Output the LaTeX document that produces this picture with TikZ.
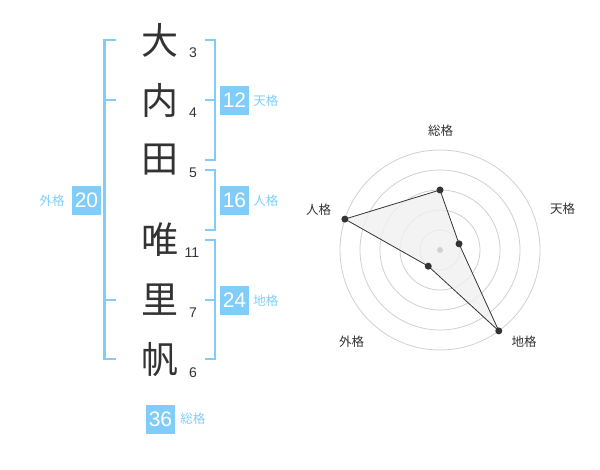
\documentclass[tikz,border=0pt]{standalone}
\usepackage{fontspec}
\setmainfont{Liberation Sans}
\newfontfamily\jpfont{Noto Sans CJK JP}
\usetikzlibrary{positioning}
\usepackage{xcolor}
\definecolor{kakublue}{RGB}{129,205,250}
\definecolor{inkgray}{RGB}{51,51,51}
\definecolor{ringgray}{RGB}{208,208,208}
\definecolor{areagray}{RGB}{240,240,240}

\begin{document}
\begin{tikzpicture}[
    x=1pt, y=-1pt,
    kanji/.style={font=\jpfont\fontsize{37}{37}\selectfont, text=inkgray, inner sep=0pt},
    strokes/.style={font=\fontsize{14}{14}\selectfont, text=inkgray, inner sep=0pt},
    scorebox/.style={rectangle, fill=kakublue, text=white, minimum size=29pt, inner sep=0pt, font=\fontsize{21}{21}\selectfont},
    kaku/.style={font=\jpfont\fontsize{12.5}{12.5}\selectfont, text=kakublue, inner sep=0pt},
    bracket/.style={draw=kakublue, line width=2.2pt},
    ring/.style={draw=ringgray, line width=0.8pt},
    vertex/.style={circle, fill=inkgray, inner sep=0pt, minimum size=7pt},
    axislabel/.style={font=\jpfont\fontsize{12.5}{12.5}\selectfont, text=inkgray, inner sep=0pt}
]
    \useasboundingbox (0,0) rectangle (600,470);

    % Name characters and stroke counts
    \node[kanji] (c1) at (160,40) {大};
    \node[kanji] (c2) at (160,100) {内};
    \node[kanji] (c3) at (160,160) {田};
    \node[kanji] (c4) at (160,240) {唯};
    \node[kanji] (c5) at (160,300) {里};
    \node[kanji] (c6) at (160,360) {帆};
    \node[strokes] (s1) at (193,52.5) {3};
    \node[strokes] (s2) at (193,113) {4};
    \node[strokes] (s3) at (193,172.5) {5};
    \node[strokes] (s4) at (192,252.5) {11};
    \node[strokes] (s5) at (193,313) {7};
    \node[strokes] (s6) at (193,372.5) {6};

    % Brackets
    \draw[bracket] (116,40) -- (104.5,40) -- (104.5,359) -- (116,359);
    \draw[bracket] (104.5,100) -- (116,100);
    \draw[bracket] (104.5,300) -- (116,300);
    \draw[bracket] (205,40) -- (215,40) -- (215,160) -- (205,160);
    \draw[bracket] (205,100) -- (215,100);
    \draw[bracket] (205,170) -- (215,170) -- (215,230) -- (205,230);
    \draw[bracket] (205,240) -- (215,240) -- (215,359) -- (205,359);
    \draw[bracket] (205,300) -- (215,300);

    % Scores
    \node[scorebox] (ten) at (234.5,100.5) {12};
    \node[kaku, right=4pt of ten] (tenl) {天格};
    \node[scorebox] (jin) at (234.5,200.5) {16};
    \node[kaku, right=4pt of jin] (jinl) {人格};
    \node[scorebox] (chi) at (234.5,300.5) {24};
    \node[kaku, right=4pt of chi] (chil) {地格};
    \node[scorebox] (gai) at (86.5,200.5) {20};
    \node[kaku, left=7pt of gai] (gail) {外格};
    \node[scorebox] (sou) at (160.5,419) {36};
    \node[kaku, right=5pt of sou] (soul) {総格};

    % Radar chart
    \begin{scope}[shift={(440,250)}, yscale=-1]
        \foreach \r in {20,40,60,80,100}
            \draw[ring] (0,0) circle (\r);
        \coordinate (psou) at (90:60);
        \coordinate (pten) at (18:20);
        \coordinate (pchi) at (-54:100);
        \coordinate (pgai) at (-126:20);
        \coordinate (pjin) at (162:100);
        \fill[areagray, opacity=0.8] (psou) -- (pten) -- (pchi) -- (pgai) -- (pjin) -- cycle;
        \draw[inkgray, line width=0.8pt] (psou) -- (pten) -- (pchi) -- (pgai) -- (pjin) -- cycle;
        \node[circle, fill=ringgray, inner sep=0pt, minimum size=6pt] (mid) at (0,0) {};
        \node[vertex] (vsou) at (psou) {};
        \node[vertex] (vten) at (pten) {};
        \node[vertex] (vchi) at (pchi) {};
        \node[vertex] (vgai) at (pgai) {};
        \node[vertex] (vjin) at (pjin) {};
    \end{scope}
    \node[axislabel] (asou) at (440.5,130.5) {総格};
    \node[axislabel] (aten) at (562.5,208.5) {天格};
    \node[axislabel] (achi) at (524,342) {地格};
    \node[axislabel] (agai) at (351.7,342) {外格};
    \node[axislabel] (ajin) at (318.7,209.5) {人格};
\end{tikzpicture}
\end{document}
